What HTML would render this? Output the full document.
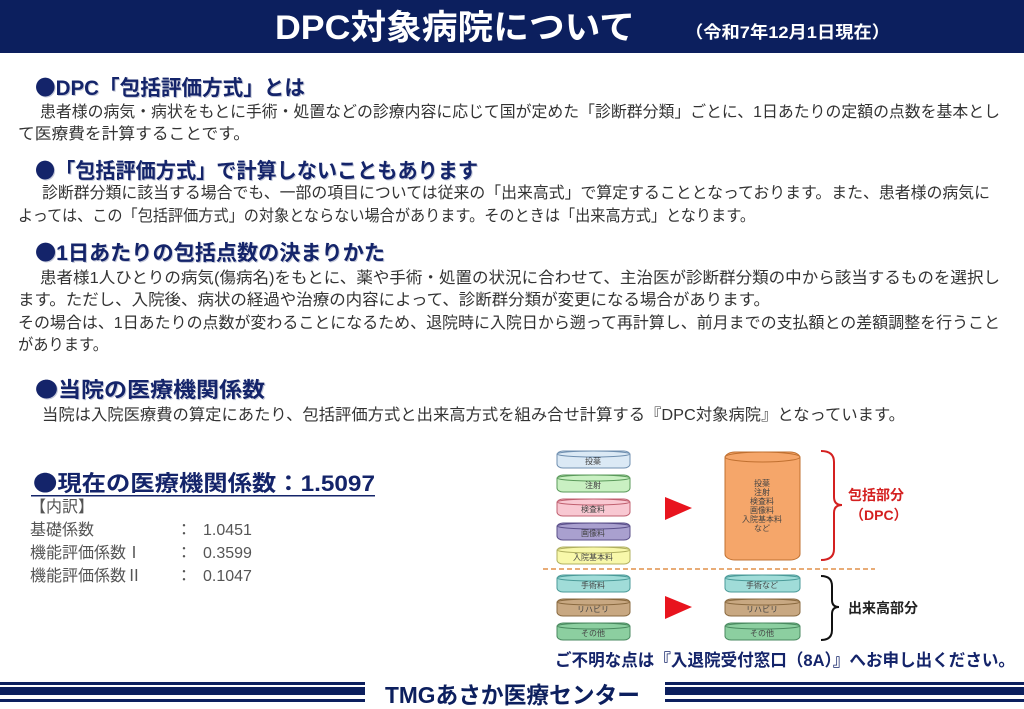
<!DOCTYPE html>
<html><head><meta charset="utf-8"><style>
html,body{margin:0;padding:0;background:#fff;width:1024px;height:709px;overflow:hidden}
svg{display:block;font-family:"Liberation Sans","Noto Sans CJK JP",sans-serif}
.h{font-weight:bold;fill:#14246a}
.hs{font-weight:bold;fill:#c4c8d8}
.b{fill:#333;font-size:16px}
.c{fill:#555;font-size:16px}
.s{font-size:8px;fill:#444;text-anchor:middle}
.d{font-family:"Noto Sans CJK JP",sans-serif}
</style></head><body>
<svg width="1024" height="709" viewBox="0 0 1024 709" xmlns="http://www.w3.org/2000/svg">
<rect x="0" y="0" width="1024" height="53" fill="#0c1f5e"/>
<text x="275" y="39" font-size="34" font-weight="bold" fill="#fff" textLength="360" lengthAdjust="spacingAndGlyphs">DPC対象病院について</text>
<text x="685" y="38" font-size="17" font-weight="bold" fill="#fff" textLength="205" lengthAdjust="spacingAndGlyphs">（令和7年12月1日現在）</text>

<text class="hs" x="36" y="96" font-size="21" textLength="270" lengthAdjust="spacingAndGlyphs"><tspan class="d">●</tspan>DPC「包括評価方式」とは</text>
<text class="h" x="35" y="95" font-size="21" textLength="270" lengthAdjust="spacingAndGlyphs"><tspan class="d">●</tspan>DPC「包括評価方式」とは</text>
<text class="b" x="40" y="117" textLength="960" lengthAdjust="spacingAndGlyphs">患者様の病気・病状をもとに手術・処置などの診療内容に応じて国が定めた「診断群分類」ごとに、1日あたりの定額の点数を基本とし</text>
<text class="b" x="18" y="139" textLength="232" lengthAdjust="spacingAndGlyphs">て医療費を計算することです。</text>

<text class="hs" x="36" y="179" font-size="21" textLength="443" lengthAdjust="spacingAndGlyphs"><tspan class="d">●</tspan>「包括評価方式」で計算しないこともあります</text>
<text class="h" x="35" y="178" font-size="21" textLength="443" lengthAdjust="spacingAndGlyphs"><tspan class="d">●</tspan>「包括評価方式」で計算しないこともあります</text>
<text class="b" x="42" y="198" textLength="948" lengthAdjust="spacingAndGlyphs">診断群分類に該当する場合でも、一部の項目については従来の「出来高式」で算定することとなっております。また、患者様の病気に</text>
<text class="b" x="18" y="221" textLength="737" lengthAdjust="spacingAndGlyphs">よっては、この「包括評価方式」の対象とならない場合があります。そのときは「出来高方式」となります。</text>

<text class="hs" x="36" y="261" font-size="21" textLength="350" lengthAdjust="spacingAndGlyphs"><tspan class="d">●</tspan>1日あたりの包括点数の決まりかた</text>
<text class="h" x="35" y="260" font-size="21" textLength="350" lengthAdjust="spacingAndGlyphs"><tspan class="d">●</tspan>1日あたりの包括点数の決まりかた</text>
<text class="b" x="40" y="283" textLength="960" lengthAdjust="spacingAndGlyphs">患者様1人ひとりの病気(傷病名)をもとに、薬や手術・処置の状況に合わせて、主治医が診断群分類の中から該当するものを選択し</text>
<text class="b" x="18" y="305" textLength="752" lengthAdjust="spacingAndGlyphs">ます。ただし、入院後、病状の経過や治療の内容によって、診断群分類が変更になる場合があります。</text>
<text class="b" x="18" y="328" textLength="982" lengthAdjust="spacingAndGlyphs">その場合は、1日あたりの点数が変わることになるため、退院時に入院日から遡って再計算し、前月までの支払額との差額調整を行うこと</text>
<text class="b" x="18" y="350" textLength="90" lengthAdjust="spacingAndGlyphs">があります。</text>

<text class="hs" x="36" y="398" font-size="21" textLength="230" lengthAdjust="spacingAndGlyphs"><tspan class="d">●</tspan>当院の医療機関係数</text>
<text class="h" x="35" y="397" font-size="21" textLength="230" lengthAdjust="spacingAndGlyphs"><tspan class="d">●</tspan>当院の医療機関係数</text>
<text class="b" x="42" y="420" textLength="863" lengthAdjust="spacingAndGlyphs">当院は入院医療費の算定にあたり、包括評価方式と出来高方式を組み合せ計算する『DPC対象病院』となっています。</text>

<text class="h" x="33" y="491" font-size="22" textLength="342" lengthAdjust="spacingAndGlyphs"><tspan class="d">●</tspan>現在の医療機関係数：1.5097</text>
<rect x="31" y="495" width="344" height="1.5" fill="#14246a"/>
<text class="c" x="30" y="512">【内訳】</text>
<text class="c" x="30" y="535">基礎係数</text>
<text class="c" x="30" y="558">機能評価係数Ⅰ</text>
<text class="c" x="30" y="581">機能評価係数Ⅱ</text>
<text class="c" x="176" y="535">：</text><text class="c" x="176" y="558">：</text><text class="c" x="176" y="581">：</text>
<text class="c" x="203" y="535">1.0451</text><text class="c" x="203" y="558">0.3599</text><text class="c" x="203" y="581">0.1047</text>

<g stroke-width="1">
<g fill="#dbe9f5" stroke="#6f8fb0"><rect x="557" y="451" width="73" height="17" rx="6" ry="4"/><ellipse cx="593.5" cy="454" rx="36.5" ry="3"/></g>
<text class="s" x="593" y="464">投薬</text>
<g fill="#c9f0c2" stroke="#5a9a5a"><rect x="557" y="475" width="73" height="17" rx="6" ry="4"/><ellipse cx="593.5" cy="478" rx="36.5" ry="3"/></g>
<text class="s" x="593" y="488">注射</text>
<g fill="#f8c8d2" stroke="#c06070"><rect x="557" y="499" width="73" height="17" rx="6" ry="4"/><ellipse cx="593.5" cy="502" rx="36.5" ry="3"/></g>
<text class="s" x="593" y="512">検査料</text>
<g fill="#a9a0cf" stroke="#5a4f8a"><rect x="557" y="523" width="73" height="17" rx="6" ry="4"/><ellipse cx="593.5" cy="526" rx="36.5" ry="3"/></g>
<text class="s" x="593" y="536">画像料</text>
<g fill="#f8f8aa" stroke="#b0b060"><rect x="557" y="547" width="73" height="17" rx="6" ry="4"/><ellipse cx="593.5" cy="550" rx="36.5" ry="3"/></g>
<text class="s" x="593" y="560">入院基本料</text>

<g fill="#a0dcd8" stroke="#4a9a98"><rect x="557" y="575" width="73" height="17" rx="6" ry="4"/><ellipse cx="593.5" cy="578" rx="36.5" ry="3"/></g>
<text class="s" x="593" y="588">手術料</text>
<g fill="#c8a882" stroke="#8a6a40"><rect x="557" y="599" width="73" height="17" rx="6" ry="4"/><ellipse cx="593.5" cy="602" rx="36.5" ry="3"/></g>
<text class="s" x="593" y="612" fill="#666">リハビリ</text>
<g fill="#8ccfa0" stroke="#4a8a60"><rect x="557" y="623" width="73" height="17" rx="6" ry="4"/><ellipse cx="593.5" cy="626" rx="36.5" ry="3"/></g>
<text class="s" x="593" y="636">その他</text>

<g fill="#a0dcd8" stroke="#4a9a98"><rect x="725" y="575" width="75" height="17" rx="6" ry="4"/><ellipse cx="762.5" cy="578" rx="37.5" ry="3"/></g>
<text class="s" x="762" y="588">手術など</text>
<g fill="#c8a882" stroke="#8a6a40"><rect x="725" y="599" width="75" height="17" rx="6" ry="4"/><ellipse cx="762.5" cy="602" rx="37.5" ry="3"/></g>
<text class="s" x="762" y="612" fill="#666">リハビリ</text>
<g fill="#8ccfa0" stroke="#4a8a60"><rect x="725" y="623" width="75" height="17" rx="6" ry="4"/><ellipse cx="762.5" cy="626" rx="37.5" ry="3"/></g>
<text class="s" x="762" y="636">その他</text>

<g fill="#f5a66a" stroke="#c07030"><rect x="725" y="452" width="75" height="108" rx="10" ry="6"/><ellipse cx="762.5" cy="457" rx="37.5" ry="5"/></g>
<text class="s" x="762" y="486">投薬</text><text class="s" x="762" y="495">注射</text><text class="s" x="762" y="504">検査料</text><text class="s" x="762" y="513">画像料</text><text class="s" x="762" y="522">入院基本料</text><text class="s" x="762" y="531">など</text>
</g>
<polygon points="665,497 692,508 665,520" fill="#e8141e"/>
<polygon points="665,596 692,607 665,619" fill="#e8141e"/>
<line x1="543" y1="569" x2="875" y2="569" stroke="#e0904a" stroke-width="1.5" stroke-dasharray="5,3"/>
<path d="M821,451 Q834,451 834,462 L834,497 Q834,505 842,505 Q834,505 834,513 L834,549 Q834,560 821,560" fill="none" stroke="#d42020" stroke-width="2"/>
<path d="M821,576 Q832,576 832,586 L832,600 Q832,607 839,607 Q832,607 832,614 L832,630 Q832,640 821,640" fill="none" stroke="#111" stroke-width="2"/>
<text x="848" y="500" font-size="14" font-weight="bold" fill="#d42020">包括部分</text>
<text x="850" y="520" font-size="14" font-weight="bold" fill="#d42020">（DPC）</text>
<text x="848" y="613" font-size="14" font-weight="bold" fill="#222">出来高部分</text>

<text x="555" y="666" font-size="17" font-weight="bold" fill="#14246a" textLength="460" lengthAdjust="spacingAndGlyphs">ご不明な点は『入退院受付窓口（8A）』へお申し出ください。</text>

<g fill="#0c1f5e">
<rect x="0" y="682" width="365" height="3"/><rect x="0" y="687" width="365" height="8"/><rect x="0" y="699" width="365" height="3"/>
<rect x="665" y="682" width="359" height="3"/><rect x="665" y="687" width="359" height="8"/><rect x="665" y="699" width="359" height="3"/>
</g>
<text x="385" y="703" font-size="23" font-weight="bold" fill="#0c1f5e" textLength="255" lengthAdjust="spacingAndGlyphs">TMGあさか医療センター</text>
</svg>
</body></html>
